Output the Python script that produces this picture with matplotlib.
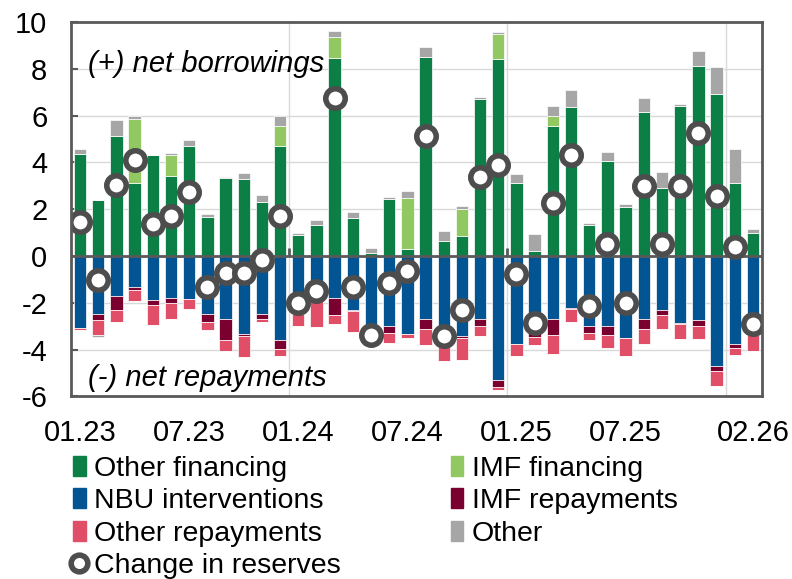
import matplotlib
matplotlib.use("Agg")
import matplotlib.pyplot as plt
from matplotlib.patches import Patch
from matplotlib.lines import Line2D
import numpy as np

plt.rcParams['font.family'] = ['Liberation Sans', 'DejaVu Sans']

# Months 01.23 .. 02.26
months = ['01.23','02.23','03.23','04.23','05.23','06.23','07.23','08.23','09.23','10.23','11.23','12.23',
          '01.24','02.24','03.24','04.24','05.24','06.24','07.24','08.24','09.24','10.24','11.24','12.24',
          '01.25','02.25','03.25','04.25','05.25','06.25','07.25','08.25','09.25','10.25','11.25','12.25',
          '01.26','02.26']
tick_labels = ['01.23', '07.23', '01.24', '07.24', '01.25', '07.25', '02.26']

other_financing = [4.36, 2.40, 5.11, 3.14, 4.33, 3.40, 4.69, 1.67, 3.33, 3.30, 2.33, 4.69,
                   0.90, 1.33, 8.46, 1.64, 0.14, 2.43, 0.29, 8.50, 0.66, 0.87, 6.71, 8.40,
                   3.11, 0.23, 5.57, 6.36, 1.33, 4.07, 2.11, 6.17, 2.89, 6.40, 8.14, 6.93,
                   3.11, 1.00]
imf_financing = [0, 0, 0, 2.73, 0, 0.90, 0, 0, 0, 0, 0, 0.85,
                 0, 0, 0.91, 0, 0, 0, 2.18, 0, 0, 1.14, 0, 1.10,
                 0, 0, 0.43, 0, 0, 0, 0, 0, 0, 0, 0, 0,
                 0, 0]
other_pos = [0.21, 0, 0.72, 0.13, 0, 0.10, 0.28, 0.13, 0.03, 0.27, 0.28, 0.46,
             0.10, 0.21, 0.23, 0.25, 0.22, 0.11, 0.33, 0.44, 0.41, 0.13, 0.08, 0.09,
             0.39, 0.70, 0.40, 0.75, 0.07, 0.36, 0.12, 0.57, 0.70, 0.11, 0.60, 1.16,
             1.46, 0.14]
nbu_interventions = [-3.06, -2.46, -1.69, -1.34, -1.89, -1.81, -1.84, -2.46, -2.71, -3.31, -2.46, -3.57,
                     -2.49, -1.89, -1.79, -2.31, -3.45, -3.00, -3.31, -2.71, -3.85, -3.43, -2.71, -5.31,
                     -3.77, -3.30, -2.67, -2.20, -2.99, -2.99, -3.49, -2.71, -2.31, -2.86, -2.74, -4.71,
                     -3.74, -3.39]
imf_repayments = [0, -0.28, -0.62, -0.09, -0.21, -0.18, 0, -0.37, -0.89, -0.10, -0.21, -0.42,
                  0, 0, -0.74, -0.05, 0, -0.27, 0, -0.39, 0, -0.07, -0.28, -0.29,
                  0, -0.16, -0.72, -0.07, -0.28, -0.40, 0, -0.42, -0.22, -0.05, -0.26, -0.18,
                  -0.17, 0]
other_repayments = [-0.08, -0.62, -0.50, -0.48, -0.86, -0.71, -0.42, -0.31, -0.46, -0.90, -0.14, -0.30,
                    -0.50, -1.14, -0.36, -0.88, -0.05, -0.43, -0.19, -0.71, -0.65, -0.96, -0.42, -0.11,
                    -0.52, -0.35, -0.78, -0.54, -0.30, -0.52, -0.77, -0.61, -0.58, -0.63, -0.53, -0.65,
                    -0.30, -0.68]
other_neg = [0, -0.10, 0, 0, 0, 0, 0, 0, 0, 0, 0, 0,
             0, 0, 0, 0, 0, 0, 0, 0, 0, 0, 0, 0,
             0, 0, 0, 0, 0, 0, 0, 0, 0, 0, 0, 0,
             0, 0]
change_in_reserves = [1.46, -1.03, 3.04, 4.09, 1.37, 1.73, 2.74, -1.31, -0.71, -0.74, -0.17, 1.71,
                      -1.99, -1.49, 6.74, -1.34, -3.36, -1.14, -0.63, 5.14, -3.43, -2.31, 3.37, 3.90,
                      -0.77, -2.84, 2.26, 4.33, -2.14, 0.51, -2.00, 3.01, 0.50, 3.01, 5.26, 2.56,
                      0.37, -2.91]

c_other_fin = '#0B7F45'
c_imf_fin = '#92C862'
c_nbu = '#035493'
c_imf_rep = '#7A0030'
c_other_rep = '#E04E68'
c_other = '#A6A6A6'
c_axis = '#595959'
c_grid = '#D9D9D9'
fs = 21
fs_leg = 20.5

x = np.arange(len(months))
w = 0.68
fig = plt.figure(figsize=(7.92, 5.79), dpi=100)
ax = fig.add_axes([0.0896, 0.3152, 0.8725, 0.6468])

ekw = dict(edgecolor='white', linewidth=0.5, zorder=3)
of = np.array(other_financing)
imf = np.array(imf_financing)
op = np.array(other_pos)
nb = np.array(nbu_interventions)
ir = np.array(imf_repayments)
orp = np.array(other_repayments)
on = np.array(other_neg)

ax.bar(x, of, w, color=c_other_fin, **ekw)
ax.bar(x, imf, w, bottom=of, color=c_imf_fin, **ekw)
ax.bar(x, op, w, bottom=of + imf, color=c_other, **ekw)
ax.bar(x, nb, w, color=c_nbu, **ekw)
ax.bar(x, ir, w, bottom=nb, color=c_imf_rep, **ekw)
ax.bar(x, orp, w, bottom=nb + ir, color=c_other_rep, **ekw)
ax.bar(x, on, w, bottom=nb + ir + orp, color=c_other, **ekw)

ax.plot(x, change_in_reserves, linestyle='none', marker='o', ms=14, mfc='white',
        mec='#4D4D4D', mew=4, zorder=6)

ax.set_xlim(-0.5, len(months) - 0.5)
ax.set_ylim(-6, 10)
ax.set_yticks(np.arange(-6, 11, 2))
ax.set_yticklabels([str(v) for v in range(-6, 11, 2)])
tick_pos = [months.index(t) for t in tick_labels]
ax.set_xticks(tick_pos)
ax.set_xticklabels(tick_labels)

for v in range(-4, 10, 2):
    if v != 0:
        ax.axhline(v, color=c_grid, lw=1.0, zorder=1)
year_bounds = [i - 0.5 for i, m in enumerate(months) if m.startswith('01.') and i > 0]
for b in year_bounds:
    ax.axvline(b, color=c_grid, lw=1.0, zorder=1)
ax.vlines(year_bounds, 0, 0.35, color=c_axis, lw=2, zorder=4)
ax.axhline(0, color=c_axis, lw=2, zorder=4)

for s in ax.spines.values():
    s.set_color(c_axis)
    s.set_linewidth(2)
    s.set_zorder(7)

ax.tick_params(axis='y', direction='in', length=5, width=1.5, color=c_axis, labelsize=fs, pad=17)
ax.tick_params(axis='x', length=0, labelsize=fs, pad=16)

ax.text(0.025, 0.889, '(+) net borrowings', transform=ax.transAxes, fontsize=fs,
        style='italic', va='center', ha='left', zorder=8)
ax.text(0.025, 0.049, '(-) net repayments', transform=ax.transAxes, fontsize=fs,
        style='italic', va='center', ha='left', zorder=8)

handles = [Patch(color=c_other_fin), Patch(color=c_nbu), Patch(color=c_other_rep),
           Line2D([], [], linestyle='none', marker='o', ms=12, mfc='white', mec='#4D4D4D', mew=4),
           Patch(color=c_imf_fin), Patch(color=c_imf_rep), Patch(color=c_other)]
labels = ['Other financing', 'NBU interventions', 'Other repayments', 'Change in reserves',
          'IMF financing', 'IMF repayments', 'Other']
fig.legend(handles, labels, ncol=2, loc='upper left', bbox_to_anchor=(0.092, 0.213),
           frameon=False, fontsize=fs_leg, handlelength=0.45, handleheight=0.7,
           handletextpad=0.3, columnspacing=3.85, labelspacing=0.23,
           borderaxespad=0, borderpad=0)

fig.savefig('out.png', dpi=100)
